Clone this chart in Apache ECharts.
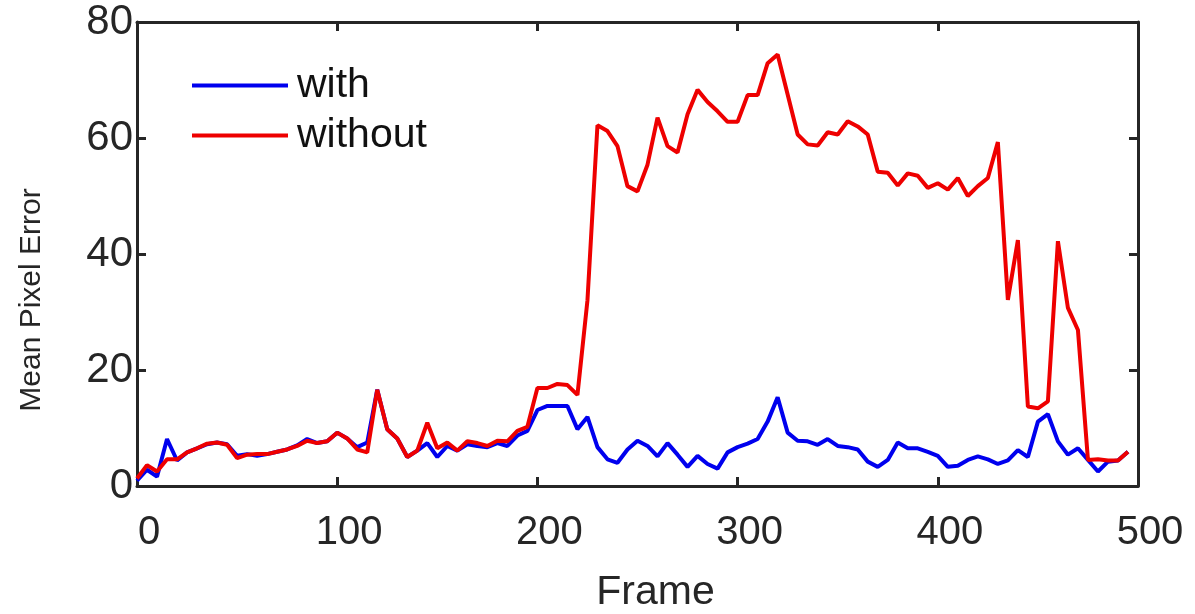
<!DOCTYPE html>
<html>
<head>
<meta charset="utf-8">
<script src="https://cdn.jsdelivr.net/npm/echarts@6/dist/echarts.min.js"></script>
<style>
html,body{margin:0;padding:0;background:#fff;}
#chart{width:1195px;height:614px;}
</style>
</head>
<body>
<div id="chart"></div>
<script>
const frames = [0,5,10,15,20,25,30,35,40,45,50,55,60,65,70,75,80,85,90,95,
  100,105,110,115,120,125,130,135,140,145,150,155,160,165,170,175,180,185,190,195,
  200,205,210,215,220,225,230,235,240,245,250,255,260,265,270,275,280,285,290,295,
  300,305,310,315,320,325,330,335,340,345,350,355,360,365,370,375,380,385,390,395,
  400,405,410,415,420,425,430,435,440,445,450,455,460,465,470,475,480,485,490,495];

const withValues = [0.9,2.8,1.6,8.1,4.4,5.8,6.5,7.2,7.5,7.2,5.2,5.5,5.2,5.5,5.9,6.3,7.0,8.1,7.4,7.7,
  9.2,8.2,6.7,7.5,16.6,9.8,8.2,5.0,6.1,7.4,5.0,6.9,6.1,7.2,6.9,6.7,7.4,6.9,8.7,9.5,
  13.1,13.8,13.8,13.8,9.8,11.9,6.7,4.6,4.0,6.3,7.8,6.9,5.1,7.4,5.4,3.3,5.2,3.8,3.0,5.8,
  6.7,7.3,8.1,11.1,15.3,9.2,7.8,7.7,7.1,8.1,6.9,6.7,6.3,4.2,3.3,4.5,7.5,6.5,6.5,5.9,
  5.2,3.3,3.5,4.5,5.1,4.6,3.8,4.4,6.2,5.0,11.1,12.4,7.7,5.4,6.5,4.5,2.5,4.2,4.4,5.9];

const withoutValues = [1.3,3.6,2.5,4.6,4.6,5.8,6.5,7.3,7.5,7.1,4.8,5.4,5.5,5.5,5.9,6.3,6.9,7.8,7.4,7.7,
  9.2,8.2,6.3,5.8,16.6,9.8,8.2,5.0,6.1,10.9,6.5,7.5,6.1,7.7,7.4,6.9,7.8,7.7,9.5,10.2,
  16.9,16.9,17.6,17.4,15.7,32.0,62.2,61.2,58.6,51.7,50.8,55.4,63.5,58.6,57.5,64.1,68.3,66.2,64.6,62.8,
  62.8,67.4,67.4,72.9,74.4,67.5,60.6,58.9,58.7,61.0,60.6,62.9,62.0,60.6,54.2,54.0,51.8,53.9,53.5,51.4,
  52.2,51.1,53.1,50.0,51.7,53.1,59.3,32.1,42.4,13.7,13.4,14.6,42.2,30.7,26.9,4.5,4.6,4.4,4.4,5.9];

const seriesNames = ['with', 'without'];
const seriesColors = ['#0000ee', '#ee0000'];
const xTicks = {min: 0, max: 500, interval: 100};
const yTicks = {min: 0, max: 80, interval: 20};

const toPairs = vals => frames.map((f, i) => [f, vals[i]]);

const font = "'Liberation Sans', Arial, sans-serif";
const ink = '#262626';
const axisLine = {show: true, onZero: false, lineStyle: {color: ink, width: 3}};
const axisTick = {show: true, inside: true, length: 9, lineStyle: {color: ink, width: 3}};

const chart = echarts.init(document.getElementById('chart'), null, {renderer: 'canvas'});
chart.setOption({
  backgroundColor: '#fff',
  animation: false,
  grid: {left: 137, right: 57, top: 22, bottom: 128, containLabel: false, outerBoundsMode: 'none'},
  legend: {
    orient: 'vertical',
    left: 187, top: 60,
    icon: 'rect',
    itemWidth: 96, itemHeight: 4, itemGap: 9,
    textStyle: {fontFamily: font, fontSize: 41, lineHeight: 41, color: '#111', padding: [0,0,0,4]},
    data: seriesNames
  },
  xAxis: [{
    type: 'value', position: 'bottom',
    min: xTicks.min, max: xTicks.max, interval: xTicks.interval,
    name: 'Frame', nameLocation: 'middle', nameGap: 86,
    nameTextStyle: {fontFamily: font, fontSize: 41, color: ink, padding: [0,0,0,36]},
    axisLine, axisTick, splitLine: {show: false},
    axisLabel: {fontFamily: font, fontSize: 40, color: ink, margin: 27, padding: [0,0,0,24]}
  }, {
    type: 'value', position: 'top',
    min: xTicks.min, max: xTicks.max, interval: xTicks.interval,
    axisLine, axisTick, splitLine: {show: false}, axisLabel: {show: false}
  }],
  yAxis: [{
    type: 'value', position: 'left',
    min: yTicks.min, max: yTicks.max, interval: yTicks.interval,
    name: 'Mean Pixel Error', nameLocation: 'middle', nameGap: 90,
    nameTextStyle: {fontFamily: font, fontSize: 30, color: ink, padding: [0,92,0,0]},
    axisLine, axisTick, splitLine: {show: false},
    axisLabel: {fontFamily: font, fontSize: 42, color: ink, margin: 4, padding: [6,0,0,0]}
  }, {
    type: 'value', position: 'right',
    min: yTicks.min, max: yTicks.max, interval: yTicks.interval,
    axisLine, axisTick, splitLine: {show: false}, axisLabel: {show: false}
  }],
  series: [{
    name: seriesNames[0], type: 'line', xAxisIndex: 0, yAxisIndex: 0,
    data: toPairs(withValues), symbol: 'none', smooth: false,
    lineStyle: {color: seriesColors[0], width: 4}, itemStyle: {color: seriesColors[0]}
  }, {
    name: seriesNames[1], type: 'line', xAxisIndex: 0, yAxisIndex: 0,
    data: toPairs(withoutValues), symbol: 'none', smooth: false,
    lineStyle: {color: seriesColors[1], width: 4}, itemStyle: {color: seriesColors[1]}
  }]
});
</script>
</body>
</html>
